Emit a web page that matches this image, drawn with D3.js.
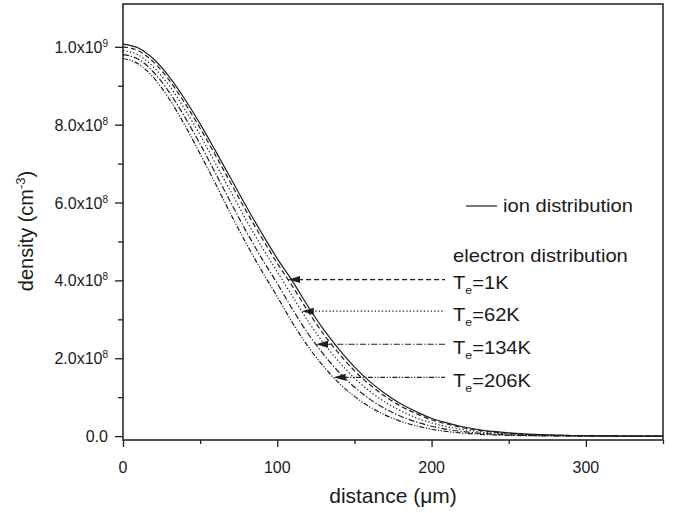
<!DOCTYPE html>
<html>
<head>
<meta charset="utf-8">
<script src="https://cdn.jsdelivr.net/npm/d3@7"></script>
<style>
  body { margin: 0; background: #fff; }
  text { font-family: "Liberation Sans", Arial, sans-serif; fill: #1a1a1a; }
</style>
</head>
<body>
<div id="chart"></div>
<script>
// distance grid (um)
const distance = [0, 10, 20, 30, 40, 50, 60, 70, 80, 90, 100, 110, 120, 130, 140, 150, 160, 170,
    180, 190, 200, 210, 220, 230, 240, 250, 260, 270, 280, 290, 300, 310, 320, 330, 340, 350];

// densities in units of 1e8 cm^-3
const ionDensity = [10.07, 9.97, 9.68, 9.23, 8.66, 8.02, 7.32, 6.61, 5.89, 5.21, 4.56, 3.97, 3.33, 2.74,
    2.23, 1.78, 1.40, 1.09, 0.83, 0.63, 0.46, 0.34, 0.24, 0.17, 0.12, 0.082, 0.055, 0.037, 0.024,
    0.016, 0.010, 0.006, 0.004, 0.002, 0.001, 0];
const electron1K = [10.00, 9.90, 9.60, 9.14, 8.56, 7.91, 7.21, 6.49, 5.77, 5.09, 4.44, 3.84, 3.20, 2.62,
    2.12, 1.68, 1.32, 1.02, 0.77, 0.58, 0.42, 0.31, 0.22, 0.15, 0.105, 0.071, 0.048, 0.032, 0.021,
    0.013, 0.008, 0.005, 0.003, 0.002, 0.001, 0];
const electron62K = [9.90, 9.79, 9.47, 9.00, 8.40, 7.73, 7.00, 6.27, 5.54, 4.86, 4.22, 3.58, 2.95, 2.39,
    1.91, 1.49, 1.15, 0.87, 0.65, 0.47, 0.34, 0.24, 0.17, 0.116, 0.078, 0.051, 0.034, 0.022, 0.014,
    0.009, 0.005, 0.003, 0.002, 0.001, 0.0005, 0];
const electron134K = [9.80, 9.68, 9.34, 8.83, 8.20, 7.50, 6.75, 5.99, 5.25, 4.56, 3.92, 3.25, 2.63, 2.10,
    1.64, 1.26, 0.95, 0.70, 0.51, 0.365, 0.253, 0.173, 0.118, 0.078, 0.050, 0.033, 0.021, 0.013, 0.008,
    0.005, 0.003, 0.002, 0.001, 0.0005, 0, 0];
const electron206K = [9.70, 9.56, 9.20, 8.66, 7.99, 7.25, 6.48, 5.69, 4.94, 4.24, 3.58, 2.90, 2.30, 1.79,
    1.36, 1.02, 0.75, 0.54, 0.38, 0.264, 0.177, 0.118, 0.077, 0.049, 0.031, 0.019, 0.012, 0.007, 0.004,
    0.002, 0.001, 0.0005, 0, 0, 0, 0];

const electronLabels = ["1K", "62K", "134K", "206K"];
// density level (1e8) where each legend arrow sits
const arrowLevels = [4.02, 3.21, 2.36, 1.51];

const xTicks = [0, 100, 200, 300];
const yTicks = [0, 2, 4, 6, 8, 10];
const yTickLabels = ["0.0", "2.0x10|8", "4.0x10|8", "6.0x10|8", "8.0x10|8", "1.0x10|9"];

const width = 679, height = 513;
const margin = {left: 123, right: 16, top: 4, bottom: 73};

const svg = d3.select("#chart").append("svg")
    .attr("width", width)
    .attr("height", height);

const x = d3.scaleLinear().domain([0, 350]).range([margin.left, width - margin.right]);
const y = d3.scaleLinear().domain([-0.1, 11.1]).range([height - margin.bottom, margin.top]);

const ink = "#1e1e1e";

// axes with outward ticks
const xAxis = svg.append("g")
    .attr("transform", `translate(0,${height - margin.bottom})`)
    .call(d3.axisBottom(x).tickValues(d3.range(0, 351, 50)).tickSize(6).tickFormat(""));
xAxis.selectAll(".tick line").attr("y2", d => d % 100 === 0 ? 7 : 4);

const yAxis = svg.append("g")
    .attr("transform", `translate(${margin.left},0)`)
    .call(d3.axisLeft(y).tickValues(d3.range(0, 11, 1)).tickSize(6).tickFormat(""));
yAxis.selectAll(".tick line").attr("x2", d => d % 2 === 0 ? -8 : -5);

svg.selectAll(".domain").remove();
svg.selectAll(".tick line").attr("stroke", ink).attr("stroke-width", 1.3);

// frame
svg.append("rect")
    .attr("x", margin.left).attr("y", margin.top)
    .attr("width", width - margin.right - margin.left)
    .attr("height", height - margin.bottom - margin.top)
    .attr("fill", "none").attr("stroke", ink).attr("stroke-width", 1.5);

// text helper: horizontally stretched glyphs like the original export
function label(px, py, size, sx, anchor) {
    return svg.append("text")
        .attr("transform", `translate(${px},${py}) scale(${sx},1)`)
        .attr("font-size", size)
        .attr("text-anchor", anchor);
}

xTicks.forEach(v => {
    label(x(v), 473, 16, 1.0, "middle").text(v);
});

yTicks.forEach((v, i) => {
    const parts = yTickLabels[i].split("|");
    const t = label(108, y(v) + 6, 16, 1.0, "end");
    t.append("tspan").text(parts[0]);
    if (parts[1]) t.append("tspan").attr("font-size", 10).attr("dy", -6).text(parts[1]);
});

// axis titles
label(393, 503, 20, 1.05, "middle").text("distance (\u03bcm)");

const yTitle = svg.append("text")
    .attr("transform", "translate(33,231) rotate(-90)")
    .attr("font-size", 20)
    .attr("text-anchor", "middle");
yTitle.append("tspan").text("density (cm");
yTitle.append("tspan").attr("font-size", 13).attr("dy", -8).text("-3");
yTitle.append("tspan").attr("dy", 8).text(")");

// curves
const series = [
    {values: ionDensity, dash: null},
    {values: electron1K, dash: "5,3"},
    {values: electron62K, dash: "1.3,2.2"},
    {values: electron134K, dash: "6,2,1.3,2"},
    {values: electron206K, dash: "5,1.6,1.2,1.6,1.2,1.6"}
];

const line = d3.line()
    .x((d, i) => x(distance[i]))
    .y(d => y(d))
    .curve(d3.curveMonotoneX);

svg.append("g")
    .selectAll("path")
    .data(series)
    .join("path")
    .attr("d", d => line(d.values))
    .attr("fill", "none")
    .attr("stroke", ink)
    .attr("stroke-width", 1.2)
    .attr("stroke-dasharray", d => d.dash);

// where a series drops through a level (linear between samples)
function crossing(values, level) {
    for (let i = 0; i < values.length - 1; i++) {
        if (values[i] >= level && values[i + 1] < level) {
            const f = (values[i] - level) / (values[i] - values[i + 1]);
            return distance[i] + f * (distance[i + 1] - distance[i]);
        }
    }
    return 0;
}

// legend
svg.append("line")
    .attr("x1", 466).attr("x2", 497).attr("y1", 206).attr("y2", 206)
    .attr("stroke", ink).attr("stroke-width", 1.2);
label(503, 212, 18, 1.12, "start").text("ion distribution");

label(453, 262, 18, 1.12, "start").text("electron distribution");

const arrowEnd = 445;
electronLabels.forEach((name, i) => {
    const s = series[i + 1];
    const ay = y(arrowLevels[i]);
    const tip = x(crossing(s.values, arrowLevels[i]));
    svg.append("line")
        .attr("x1", tip + 10).attr("x2", arrowEnd)
        .attr("y1", ay).attr("y2", ay)
        .attr("stroke", ink).attr("stroke-width", 1.1)
        .attr("stroke-dasharray", s.dash);
    svg.append("path")
        .attr("d", `M${tip},${ay} L${tip + 12},${ay - 3.5} L${tip + 12},${ay + 3.5} Z`)
        .attr("fill", ink);
    const t = label(453, ay + 9.5, 18, 1.12, "start");
    t.append("tspan").text("T");
    t.append("tspan").attr("font-size", 11).attr("dy", 5).text("e");
    t.append("tspan").attr("dy", -5).text("=" + name);
});
</script>
</body>
</html>
